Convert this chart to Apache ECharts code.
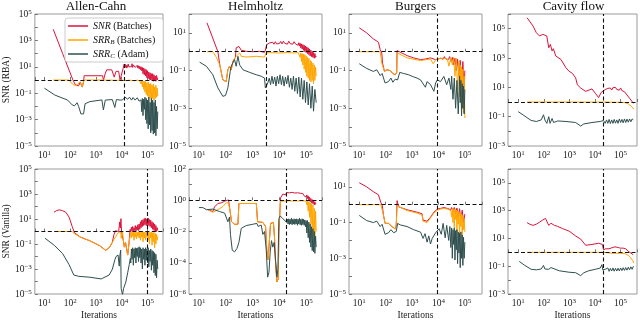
<!DOCTYPE html>
<html>
<head>
<meta charset="utf-8">
<script src="https://cdn.jsdelivr.net/npm/echarts@6/dist/echarts.min.js"></script>
<style>
  html, body { margin: 0; padding: 0; background: #fff; }
  #chart { width: 640px; height: 321px; }
</style>
</head>
<body>
<div id="chart"></div>
<script>
// panel titles, row labels, and the iteration where the dashed vertical line sits
const problems = ['Allen-Cahn', 'Helmholtz', 'Burgers', 'Cavity flow'];
const rowLabels = ['SNR (RBA)', 'SNR (Vanilla)'];
const cutIters = [12600, 3240, 9100, 21500, 100000, 17800, 9100, 21500];

// ---------- Allen-Cahn, RBA ----------
const acRbaSnr = [[22,7000],[51,100],[128,1.0],[160,0.43],[213,0.36],[245,0.72],[293,0.29],[330,0.69],[348,2.1],[1820,2.1],[1940,0.9],[2200,2.4],[2600,5.9],[4100,5.9],[5100,1.65],[6000,4.5],[7600,4.5],[8600,1.0],[10000,1.1],[11400,7.9],[12400,16],[13300,9],[14100,15],[15000,8],[15800,13],[16800,9],[17800,16],[18800,10],[20000,14],[21100,8],[22400,13],[23700,10],[25100,17],[26600,9],[28200,14],[29900,10],[31600,15],[33500,9],[35500,12],[37600,7],[39800,13],[42200,8],[44700,12],[47300,7],[50100,11],[53100,6],[56200,10],[59600,5],[63100,9],[66800,3],[70800,8],[75000,2.5],[79400,7],[84100,2],[89100,6],[94400,1.5],[100000,5],[106000,1.3],[112000,4],[119000,1.1],[126000,3.5],[133000,1],[141000,3],[150000,0.9],[158000,3],[168000,0.8],[178000,2.5],[188000,0.9],[200000,2],[211000,0.8],[224000,2.2],[236000,1],[250000,1.5]];
const acRbaSrrB = [[22,1],[90,1],[110,0.6],[140,0.42],[180,0.38],[210,0.4],[240,0.72],[265,0.45],[290,0.3],[320,0.6],[345,1],[1800,1],[1900,0.78],[2100,0.97],[5800,0.95],[6300,0.78],[7000,0.95],[10000,0.97],[15000,0.9],[20000,0.97],[30000,0.88],[40000,0.97],[50100,0.85],[53100,0.95],[56200,0.5],[59600,0.9],[63100,0.3],[66800,0.85],[70800,0.2],[75000,0.8],[79400,0.12],[84100,0.75],[89100,0.08],[94400,0.6],[100000,0.06],[106000,0.7],[112000,0.05],[119000,0.5],[126000,0.04],[133000,0.55],[141000,0.035],[150000,0.4],[158000,0.04],[168000,0.5],[178000,0.03],[188000,0.3],[200000,0.04],[211000,0.4],[224000,0.05],[236000,0.25],[250000,0.06]];
const acRbaSrrC = [[10,0.24],[25,0.074],[44,0.047],[78,0.031],[120,0.013],[147,0.011],[185,0.019],[213,0.01],[261,0.0027],[330,0.0027],[380,0.016],[580,0.023],[1700,0.031],[1940,0.0054],[2300,0.03],[4300,0.033],[5400,0.0083],[6200,0.033],[8800,0.03],[10700,0.031],[13400,0.05],[17000,0.035],[20000,0.05],[24000,0.03],[27500,0.047],[33000,0.03],[40000,0.045],[47000,0.025],[56200,0.031],[59600,0.004],[63100,0.04],[66800,0.002],[70800,0.035],[75000,0.006],[79400,0.05],[84100,0.001],[89100,0.04],[94400,0.0005],[100000,0.03],[106000,0.0002],[112000,0.05],[119000,0.0004],[126000,0.02],[133000,0.0001],[141000,0.04],[150000,0.00015],[158000,0.03],[168000,0.00008],[178000,0.02],[188000,0.0001],[200000,0.03],[211000,0.00006],[224000,0.01],[236000,0.0002],[250000,0.004]];

// ---------- Helmholtz, RBA ----------
const hzRbaSnr = [[20,34],[51,1.0],[60,0.2],[78,0.032],[104,0.026],[120,0.11],[138,0.17],[160,0.11],[185,0.31],[213,0.25],[230,0.5],[245,1.6],[310,1.9],[380,1.2],[580,1.05],[1020,1.0],[1820,1.05],[2800,0.93],[3000,1.2],[3400,2.4],[4300,2.9],[5000,2.6],[5600,3.2],[6300,2.5],[7100,3.4],[7900,2.6],[8900,3.3],[10000,2.7],[11200,3.5],[12600,2.6],[14100,3.6],[15800,2.8],[17800,3.4],[20000,2.5],[22400,3.6],[25100,2.7],[28200,3.3],[31600,2.5],[35500,3.4],[39800,2.6],[44700,3.2],[50100,2.2],[53100,3.0],[56200,2.0],[59600,2.8],[63100,1.6],[66800,2.6],[70800,1.4],[75000,2.4],[79400,1.2],[84100,2.2],[89100,1.0],[94400,2.0],[100000,0.9],[106000,1.8],[112000,0.8],[119000,1.6],[126000,0.7],[133000,1.4],[141000,0.6],[150000,1.2],[158000,0.55],[168000,1.0],[178000,0.5],[188000,0.9],[200000,0.45],[211000,0.8],[224000,0.5],[236000,0.6]];
const hzRbaSrrB = [[20,1],[33,1],[45,0.5],[60,0.2],[78,0.032],[104,0.026],[120,0.11],[138,0.17],[160,0.11],[185,0.31],[213,0.25],[245,0.57],[285,0.7],[330,0.86],[380,0.57],[580,0.52],[1380,0.57],[2800,0.52],[3250,0.86],[4300,0.9],[10000,0.85],[20000,0.9],[35000,0.86],[50100,0.9],[56200,0.85],[59600,0.5],[63100,0.85],[66800,0.3],[70800,0.8],[75000,0.2],[79400,0.75],[84100,0.12],[89100,0.7],[94400,0.08],[100000,0.6],[106000,0.05],[112000,0.5],[119000,0.04],[126000,0.45],[133000,0.03],[141000,0.35],[150000,0.025],[158000,0.3],[168000,0.03],[178000,0.25],[188000,0.02],[200000,0.2],[211000,0.03],[224000,0.15],[236000,0.05]];
const hzRbaSrrC = [[10.6,0.28],[19,0.17],[33,0.06],[51,0.012],[78,0.0043],[98,0.0048],[120,0.012],[147,0.09],[160,0.17],[185,0.14],[213,0.38],[245,0.17],[285,0.57],[330,0.2],[440,0.11],[780,0.08],[1380,0.06],[2100,0.05],[2800,0.04],[3000,0.012],[3700,0.022],[4200,0.04],[4700,0.018],[5300,0.05],[5900,0.02],[6700,0.045],[7500,0.015],[8400,0.05],[9400,0.02],[10600,0.06],[11900,0.018],[13300,0.05],[15000,0.015],[16800,0.045],[18800,0.02],[21100,0.055],[23700,0.013],[26600,0.04],[29900,0.01],[33500,0.05],[37600,0.008],[42200,0.04],[47300,0.006],[53100,0.045],[59600,0.004],[66800,0.04],[75000,0.003],[84100,0.03],[94400,0.002],[106000,0.025],[119000,0.0015],[133000,0.02],[150000,0.001],[168000,0.015],[188000,0.0007],[211000,0.01],[236000,0.002]];

// ---------- Burgers, RBA ----------
const bgRbaSnr = [[10,18.5],[19,10],[34,4.8],[53,3.2],[62,1.3],[71,0.86],[76,0.25],[90,0.09],[110,0.11],[148,0.1],[187,0.07],[230,0.06],[262,0.08],[270,1.15],[310,1.05],[650,0.62],[1150,0.47],[2100,0.38],[3200,0.41],[5000,0.47],[7800,0.38],[12000,0.45],[13300,0.5],[15000,0.4],[16800,0.55],[18800,0.42],[21100,0.5],[23700,0.38],[26600,0.55],[29900,0.3],[33500,0.5],[37600,0.2],[42200,0.45],[47300,0.1],[53100,0.4],[59600,0.05],[66800,0.35],[75000,0.02],[84100,0.3],[94400,0.01],[100000,0.1]];
const bgRbaSrrB = [[10,1],[62,1],[71,0.25],[90,0.09],[110,0.11],[148,0.1],[187,0.07],[230,0.06],[260,0.08],[275,0.86],[650,0.47],[2100,0.34],[5000,0.41],[6300,0.23],[7800,0.38],[12000,0.45],[14000,0.38],[16000,0.45],[18000,0.36],[21700,0.41],[25000,0.17],[29500,0.47],[33500,0.2],[37600,0.5],[42200,0.05],[47300,0.45],[53100,0.01],[59600,0.3],[63100,0.004],[66800,0.2],[70800,0.002],[75000,0.15],[79400,0.001],[84100,0.12],[89100,0.0006],[94400,0.05],[100000,0.0003]];
const bgRbaSrrC = [[10,0.23],[19,0.13],[34,0.09],[46,0.11],[62,0.054],[73,0.07],[95,0.022],[128,0.026],[158,0.04],[188,0.024],[230,0.035],[283,0.032],[340,0.08],[480,0.07],[740,0.06],[1150,0.046],[1550,0.04],[2100,0.032],[3200,0.013],[3700,0.026],[5000,0.018],[6700,0.008],[7800,0.022],[9100,0.032],[12000,0.026],[16000,0.049],[20500,0.018],[25000,0.04],[29500,0.01],[31600,0.05],[35500,0.003],[39800,0.04],[44700,0.001],[50100,0.03],[56200,0.0005],[63100,0.05],[66800,0.002],[70800,0.03],[75000,0.0004],[79400,0.02],[84100,0.001],[89100,0.015],[94400,0.0005],[100000,0.01]];

// ---------- Cavity flow, RBA ----------
const cfRbaSnr = [[22,560000],[38,150000],[51,53000],[68,32000],[91,41000],[130,32000],[156,5000],[180,8500],[210,3000],[235,4300],[295,1350],[465,800],[730,215],[970,125],[1320,88],[1750,44],[2040,15],[2750,9],[4300,5.3],[7600,7.8],[10200,4],[13800,2],[17400,4.5],[25000,7],[28200,6],[31600,8.5],[35500,6.5],[39800,9],[44700,6.5],[50100,9.5],[56200,7],[63100,10],[70800,7],[79400,9.5],[89100,6.5],[100000,9],[112000,6],[126000,8],[141000,5],[158000,6],[178000,3],[200000,3.5],[224000,1.8],[263000,1.4],[300000,0.9],[324000,0.85]];
const cfRbaSrrB = [[22,1],[1000,1],[10000,0.98],[20000,1],[50000,0.97],[100000,0.95],[150000,0.9],[200000,0.75],[250000,0.55],[300000,0.4],[324000,0.32]];
const cfRbaSrrC = [[10,0.22],[15.6,0.13],[32,0.055],[51,0.047],[79,0.06],[97,0.135],[110,0.06],[131,0.035],[156,0.1],[175,0.035],[210,0.075],[240,0.04],[350,0.051],[730,0.047],[1750,0.04],[2750,0.023],[3650,0.032],[7600,0.04],[16000,0.047],[21500,0.055],[25000,0.035],[28200,0.06],[31600,0.035],[35500,0.065],[39800,0.034],[44700,0.06],[50100,0.035],[56200,0.065],[63100,0.036],[70800,0.06],[79400,0.035],[89100,0.07],[100000,0.04],[112000,0.065],[126000,0.038],[141000,0.07],[158000,0.04],[178000,0.068],[200000,0.042],[224000,0.07],[251000,0.045],[282000,0.07],[316000,0.06]];

// ---------- Allen-Cahn, Vanilla ----------
const acVanSnr = [[23.6,34],[29,46],[38,54],[51,46],[68,34],[91,14],[120,2.5],[148,0.78],[245,0.36],[580,0.18],[1380,0.074],[2400,0.031],[2800,0.024],[3400,0.056],[4300,0.135],[5000,0.58],[5700,1.15],[6600,1.6],[7600,1.0],[8300,5.9],[8800,1.9],[9300,10.6],[9800,1.0],[10700,0.9],[11600,0.18],[12600,0.056],[14000,0.135],[17000,0.013],[19000,0.1],[21100,1.5],[22400,0.9],[23700,2.2],[25100,1.1],[26600,2.5],[28200,1.0],[29900,2],[31600,1.2],[33500,3],[35500,1.1],[37600,2.4],[39800,1.3],[42200,3.5],[44700,1.2],[47300,4],[50100,1.5],[53100,6],[56200,2],[59600,8],[63100,2.5],[66800,9],[70800,3],[75000,11],[79400,3.5],[84100,12],[89100,3],[94400,10],[100000,3.5],[106000,12],[112000,3],[119000,9],[126000,2.5],[133000,8],[141000,2],[150000,6],[158000,1.5],[168000,5],[178000,1.2],[188000,4],[200000,1],[211000,3],[224000,1],[236000,2],[250000,1.2]];
const acVanSrrB = [[23.6,1],[120,1],[148,0.66],[245,0.36],[580,0.18],[1380,0.074],[2400,0.031],[2800,0.024],[3400,0.056],[4300,0.135],[5700,0.36],[7200,0.78],[8000,0.6],[9100,1.0],[9500,0.28],[10700,1.0],[11600,0.18],[12600,0.056],[14000,0.135],[17000,0.013],[19000,0.1],[21500,0.6],[22400,0.9],[23700,0.3],[25100,0.95],[26600,0.4],[28200,0.9],[29900,0.2],[31600,0.85],[33500,0.35],[35500,0.95],[37600,0.25],[39800,0.9],[42200,0.4],[44700,0.95],[47300,0.3],[50100,0.9],[53100,0.2],[56200,0.95],[59600,0.35],[63100,0.9],[66800,0.15],[70800,0.95],[75000,0.3],[79400,0.9],[84100,0.2],[89100,0.95],[94400,0.35],[100000,0.9],[106000,0.2],[112000,0.95],[119000,0.1],[126000,0.85],[133000,0.3],[141000,0.9],[150000,0.08],[158000,0.8],[168000,0.15],[178000,0.85],[188000,0.05],[200000,0.7],[211000,0.1],[224000,0.6],[236000,0.2],[250000,0.4]];
const acVanSrrC = [[10.6,0.29],[25,0.074],[51,0.017],[91,0.0022],[138,0.00033],[213,0.00026],[580,0.00022],[1590,0.00016],[3240,0.00033],[4300,0.00093],[5400,0.0054],[6000,0.01],[6600,0.013],[7200,0.013],[8000,0.0017],[8500,0.013],[9100,0.032],[9500,0.000028],[10700,0.000009],[11800,0.000028],[14400,0.00009],[17000,0.0005],[19500,0.0022],[21500,0.007],[22400,0.003],[23700,0.04],[25100,0.006],[26600,0.05],[28200,0.002],[29900,0.04],[31600,0.008],[33500,0.05],[35500,0.003],[37600,0.045],[39800,0.01],[42200,0.05],[44700,0.004],[47300,0.06],[50100,0.008],[53100,0.05],[56200,0.003],[59600,0.04],[63100,0.001],[66800,0.05],[70800,0.006],[75000,0.04],[79400,0.002],[84100,0.05],[89100,0.005],[94400,0.04],[100000,0.003],[106000,0.05],[112000,0.0015],[119000,0.03],[126000,0.004],[133000,0.04],[141000,0.0008],[150000,0.03],[158000,0.002],[168000,0.025],[178000,0.0005],[188000,0.02],[200000,0.0003],[211000,0.015],[224000,0.0002],[236000,0.005],[250000,0.001]];

// ---------- Helmholtz, Vanilla ----------
const hzVanSnr = [[22,0.25],[33,0.19],[38,0.37],[51,0.62],[68,0.68],[91,0.87],[105,1.0],[127,1.05],[138,1.0],[147,0.17],[165,0.042],[213,0.029],[285,0.029],[310,0.62],[1380,0.62],[1540,0.042],[2430,0.038],[3050,0.021],[3400,0.00063],[3800,0.00016],[4300,0.0002],[4700,0.033],[5400,0.042],[6000,0.038],[6600,0.004],[7200,0.0001],[8100,0.0000059],[9100,0.0000095],[9600,0.01],[10200,0.066],[11000,1.4],[13500,2.5],[15000,3.0],[16800,2.2],[18800,3.1],[21100,2.4],[23700,3.0],[26600,2.3],[29900,3.2],[33500,2.4],[37600,2.9],[42200,2.2],[47300,3.0],[53100,2.3],[59600,2.8],[66800,2.1],[75000,2.7],[84100,1.9],[94400,2.5],[100000,1.6],[106000,2.2],[112000,1.3],[119000,1.9],[126000,1.0],[133000,1.6],[141000,0.8],[150000,1.3],[158000,0.7],[168000,1.1],[178000,0.6],[188000,0.9],[200000,0.5],[211000,0.8],[224000,0.55],[236000,0.6]];
const hzVanSrrB = [[19,0.27],[25,0.22],[33,0.17],[51,0.25],[78,0.39],[105,0.68],[127,0.68],[147,0.17],[165,0.042],[213,0.029],[285,0.029],[310,0.62],[1380,0.62],[1540,0.042],[2430,0.038],[3050,0.021],[3400,0.00063],[3800,0.00016],[4300,0.0002],[4700,0.033],[5400,0.042],[6000,0.038],[6600,0.004],[7200,0.0001],[8100,0.0000059],[9100,0.0000095],[9600,0.01],[10200,0.066],[11000,0.87],[12800,0.95],[20000,0.92],[40000,0.9],[70000,0.92],[100000,0.88],[106000,0.5],[112000,0.85],[119000,0.2],[126000,0.8],[133000,0.08],[141000,0.7],[150000,0.03],[158000,0.6],[168000,0.01],[178000,0.5],[188000,0.005],[200000,0.3],[211000,0.003],[224000,0.2],[236000,0.01]];
const hzVanSrrC = [[10,0.34],[14,0.34],[19,0.25],[33,0.27],[59,0.19],[91,0.15],[105,0.19],[120,0.042],[138,0.084],[150,0.0065],[175,0.00063],[213,0.0005],[260,0.0008],[310,0.002],[380,0.016],[580,0.024],[1020,0.029],[1450,0.033],[1620,0.021],[2100,0.026],[2430,0.0065],[2800,0.01],[3240,0.00063],[3650,0.000012],[4100,0.000025],[4550,0.0005],[5100,0.0026],[5700,0.001],[6400,0.002],[7200,0.0026],[8100,0.000012],[8800,0.000038],[9600,0.066],[10700,0.1],[12000,0.13],[13500,0.066],[17800,0.042],[20000,0.06],[21100,0.03],[22400,0.065],[23700,0.028],[25100,0.06],[26600,0.03],[28200,0.07],[29900,0.027],[31600,0.06],[33500,0.03],[35500,0.065],[37600,0.028],[39800,0.06],[42200,0.03],[44700,0.065],[47300,0.025],[50100,0.06],[53100,0.03],[56200,0.07],[59600,0.027],[63100,0.06],[66800,0.025],[70800,0.065],[75000,0.028],[79400,0.06],[84100,0.025],[89100,0.055],[94400,0.02],[100000,0.05],[106000,0.008],[112000,0.05],[119000,0.004],[126000,0.04],[133000,0.002],[141000,0.03],[150000,0.001],[158000,0.02],[168000,0.0006],[178000,0.015],[188000,0.0005],[200000,0.01],[211000,0.0004],[224000,0.005],[236000,0.001]];

// ---------- Burgers, Vanilla ----------
const bgVanSnr = [[10,17],[19,10],[34,5.4],[53,3.6],[66,1.3],[74,0.93],[83,0.25],[95,0.09],[110,0.11],[128,0.09],[172,0.06],[230,0.044],[252,0.074],[270,1.7],[310,0.76],[650,0.52],[1550,0.38],[2400,0.31],[2600,0.135],[3700,0.12],[5000,0.2],[6700,0.38],[9100,0.57],[12000,0.62],[16000,0.7],[21700,0.62],[25000,0.76],[29500,0.52],[31600,0.7],[35500,0.45],[39800,0.7],[44700,0.3],[50100,0.65],[56200,0.2],[63100,0.6],[70800,0.15],[79400,0.5],[89100,0.1],[100000,0.3]];
const bgVanSrrB = [[10,1],[66,1],[83,0.25],[95,0.09],[110,0.11],[128,0.09],[172,0.06],[230,0.044],[252,0.074],[270,0.86],[310,0.7],[650,0.47],[1550,0.34],[2400,0.27],[2600,0.12],[3700,0.1],[5000,0.18],[6700,0.34],[9100,0.5],[12000,0.57],[16000,0.62],[21700,0.57],[25000,0.67],[29500,0.47],[31600,0.2],[33500,0.6],[35500,0.1],[37600,0.55],[39800,0.05],[42200,0.6],[44700,0.15],[47300,0.5],[50100,0.03],[53100,0.45],[56200,0.08],[59600,0.4],[63100,0.02],[66800,0.35],[70800,0.06],[75000,0.3],[79400,0.015],[84100,0.25],[89100,0.04],[94400,0.15],[100000,0.03]];
const bgVanSrrC = [[10,0.25],[19,0.13],[34,0.1],[46,0.12],[62,0.06],[73,0.08],[95,0.022],[128,0.027],[158,0.04],[200,0.027],[252,0.032],[283,0.09],[358,0.074],[645,0.06],[1150,0.04],[2100,0.029],[2600,0.013],[3100,0.024],[3700,0.008],[4300,0.018],[5000,0.0063],[5800,0.013],[6700,0.012],[7800,0.027],[9100,0.032],[10600,0.045],[12800,0.022],[15000,0.09],[18000,0.014],[20500,0.07],[24500,0.01],[27000,0.06],[29500,0.004],[31600,0.05],[33500,0.001],[35500,0.04],[37600,0.006],[39800,0.05],[42200,0.0008],[44700,0.035],[47300,0.003],[50100,0.04],[53100,0.0005],[56200,0.03],[59600,0.002],[63100,0.025],[66800,0.0003],[70800,0.03],[75000,0.001],[79400,0.02],[84100,0.0004],[89100,0.015],[94400,0.001],[100000,0.008]];

// ---------- Cavity flow, Vanilla ----------
const cfVanSnr = [[22,138],[28,107],[38,87],[51,107],[68,148],[91,213],[116,276],[131,213],[156,87],[190,125],[222,148],[260,87],[345,74],[540,51],[970,34],[1750,15],[2750,9],[4300,3.2],[7600,3.7],[13800,4.5],[19500,3.7],[21500,1.5],[26000,1.8],[30000,2.3],[35000,1.8],[40000,2.4],[45000,2.1],[50000,1.9],[60000,2.5],[70000,2.0],[81000,2.2],[90000,2.4],[100000,2.0],[110000,2.3],[126000,2.0],[140000,1.7],[160000,1.8],[196000,1.2],[250000,0.9],[310000,0.66]];
const cfVanSrrB = [[22,1],[21500,1],[23000,0.85],[50000,0.85],[100000,0.85],[150000,0.8],[200000,0.6],[250000,0.4],[300000,0.25],[324000,0.17]];
const cfVanSrrC = [[11,0.22],[18,0.115],[32,0.06],[51,0.055],[79,0.063],[97,0.115],[110,0.063],[131,0.08],[156,0.06],[190,0.08],[222,0.06],[400,0.047],[970,0.037],[1750,0.034],[2750,0.021],[3650,0.034],[5700,0.047],[10200,0.06],[16000,0.074],[18600,0.13],[20000,0.055],[25000,0.06],[28200,0.045],[31600,0.075],[35500,0.043],[39800,0.07],[44700,0.045],[50100,0.075],[56200,0.044],[63100,0.07],[70800,0.045],[79400,0.072],[89100,0.046],[100000,0.075],[112000,0.048],[126000,0.078],[141000,0.05],[158000,0.08],[178000,0.052],[200000,0.085],[224000,0.055],[251000,0.09],[282000,0.06],[316000,0.1]];

const panelSeries = [
  [acRbaSnr, acRbaSrrB, acRbaSrrC], [hzRbaSnr, hzRbaSrrB, hzRbaSrrC],
  [bgRbaSnr, bgRbaSrrB, bgRbaSrrC], [cfRbaSnr, cfRbaSrrB, cfRbaSrrC],
  [acVanSnr, acVanSrrB, acVanSrrC], [hzVanSnr, hzVanSrrB, hzVanSrrC],
  [bgVanSnr, bgVanSrrB, bgVanSrrC], [cfVanSnr, cfVanSrrB, cfVanSrrC]
];

// layout (pixels) and axis extents in decades
const FONT = '"Liberation Serif", "DejaVu Serif", serif';
const cols = [{ left: 29, width: 134 }, { left: 189, width: 133 }, { left: 349, width: 133 }, { left: 508, width: 131 }];
const rows = [{ top: 14, height: 132 }, { top: 169, height: 132 }];
const xExt = [[0.63, 5.6], [0.63, 5.59], [0.61, 5.65], [0.6, 5.64]];
const yExt = [[-5, 5], [-5, 2], [-5, 2], [-3, 6], [-5, 5], [-6, 2], [-5, 2], [-3, 6]];
const names = ['snr', 'srrB', 'srrC'];
const colors = ['#dc143c', '#ffa500', '#2f4f4f'];

const lg = arr => arr.map(p => [Math.log10(p[0]), Math.log10(p[1])]);

function pow10(n) {
  return '10{s|' + (n < 0 ? '\u2212' + (-n) : n) + '}';
}
const tickRich = { s: { fontSize: 7, fontFamily: FONT, color: '#222', verticalAlign: 'top', lineHeight: 8 } };

const grid = [], xAxis = [], yAxis = [], series = [];
for (let i = 0; i < 8; i++) {
  const r = i < 4 ? 0 : 1, c = i % 4;
  const yMin = yExt[i][0];
  grid.push({
    left: cols[c].left, top: rows[r].top, width: cols[c].width, height: rows[r].height,
    show: true, borderColor: '#9a9a9a', borderWidth: 1, backgroundColor: 'transparent'
  });
  xAxis.push({
    gridIndex: i, type: 'value', min: xExt[c][0], max: xExt[c][1],
    minInterval: 1, maxInterval: 1,
    axisLine: { show: false }, splitLine: { show: false },
    axisTick: { inside: true, length: 3, lineStyle: { color: '#777' } },
    axisLabel: {
      margin: 4, fontSize: 9.5, fontFamily: FONT, color: '#222', rich: tickRich, hideOverlap: false,
      formatter: v => Math.abs(v - Math.round(v)) < 1e-6 ? pow10(Math.round(v)) : ''
    },
    name: r === 1 ? 'Iterations' : '', nameLocation: 'middle', nameGap: 16,
    nameTextStyle: { fontFamily: FONT, fontSize: 9.5, color: '#222' }
  });
  yAxis.push({
    gridIndex: i, type: 'value', min: yMin, max: yExt[i][1], interval: 1,
    axisLine: { show: false }, splitLine: { show: false },
    axisTick: { inside: true, length: 3, lineStyle: { color: '#777' } },
    axisLabel: {
      margin: 3, fontSize: 9.5, fontFamily: FONT, color: '#222', rich: tickRich,
      formatter: v => {
        const n = Math.round(v);
        if (Math.abs(v - n) > 1e-6 || (n - yMin) % 2 !== 0) return '';
        return pow10(n);
      }
    },
    name: c === 0 ? rowLabels[r] : '', nameLocation: 'middle', nameGap: 19,
    nameTextStyle: { fontFamily: FONT, fontSize: 9.5, color: '#222' }
  });

  const cut = Math.log10(cutIters[i]);
  const vLine = i === 0
    ? [{ coord: [cut, yMin] }, { coord: [cut, Math.log10(19)] }]
    : { xAxis: cut };
  panelSeries[i].forEach((arr, k) => {
    const s = {
      name: names[k], type: 'line', xAxisIndex: i, yAxisIndex: i,
      data: lg(arr), showSymbol: false, symbol: 'none',
      color: colors[k], lineStyle: { color: colors[k], width: 1 },
      animation: false, silent: true
    };
    if (k === 2) {
      s.markLine = {
        silent: true, symbol: ['none', 'none'], label: { show: false },
        lineStyle: { color: '#111', type: [4, 2.5], width: 1.1 },
        data: [{ yAxis: 0 }, vLine]
      };
    }
    series.push(s);
  });
}

const legendText = {
  snr: '{i|SNR} (Batches)',
  srrB: '{i|SRR}{sb|B} (Batches)',
  srrC: '{i|SRR}{sb|C} (Adam)'
};

const option = {
  animation: false,
  backgroundColor: '#fff',
  title: problems.map((t, c) => ({
    text: t, left: cols[c].left + cols[c].width / 2, top: 0, textAlign: 'center', padding: 0,
    textStyle: { fontFamily: FONT, fontSize: 13, fontWeight: 'normal', color: '#111' }
  })),
  legend: {
    data: names, left: 65, top: 18, orient: 'vertical',
    icon: 'rect', itemWidth: 20, itemHeight: 1.5, itemGap: 2,
    padding: [2, 8, 2, 3],
    backgroundColor: 'rgba(255,255,255,0.85)', borderColor: '#cccccc', borderWidth: 1, borderRadius: 3,
    formatter: n => legendText[n],
    textStyle: {
      fontFamily: FONT, fontSize: 10, lineHeight: 12, color: '#111',
      rich: {
        i: { fontFamily: FONT, fontSize: 10, fontStyle: 'italic', color: '#111' },
        sb: { fontFamily: FONT, fontSize: 7, fontStyle: 'italic', color: '#111', verticalAlign: 'bottom', lineHeight: 9 }
      }
    }
  },
  grid, xAxis, yAxis, series
};

const chart = echarts.init(document.getElementById('chart'), null, { renderer: 'canvas' });
chart.setOption(option);
</script>
</body>
</html>
